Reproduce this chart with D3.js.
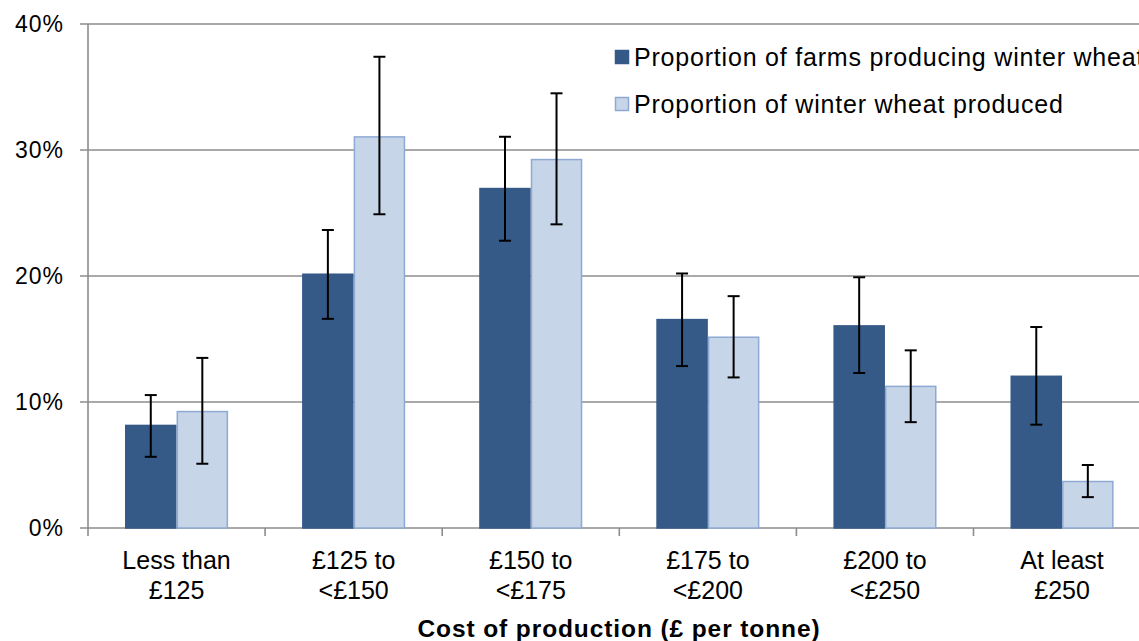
<!DOCTYPE html>
<html>
<head>
<meta charset="utf-8">
<script src="https://cdn.jsdelivr.net/npm/d3@7"></script>
<style>
  html, body { margin: 0; padding: 0; background: #fff; }
  svg { display: block; font-family: Arial, "Liberation Sans", sans-serif; }
</style>
</head>
<body>
<svg id="chart" width="1139" height="641"></svg>
<script>
// Cost-of-production bands (two-line labels)
const categories = [
  ["Less than", "£125"],
  ["£125 to", "<£150"],
  ["£150 to", "<£175"],
  ["£175 to", "<£200"],
  ["£200 to", "<£250"],
  ["At least", "£250"]
];
const seriesNames = [
  "Proportion of farms producing winter wheat",
  "Proportion of winter wheat produced"
];
// Percentages with confidence interval bounds
const farmsValues = [8.2, 20.2, 27.0, 16.6, 16.1, 12.1];
const farmsLow    = [5.65, 16.6, 22.8, 12.85, 12.3, 8.2];
const farmsHigh   = [10.55, 23.65, 31.05, 20.2, 19.9, 15.95];
const wheatValues = [9.3, 31.1, 29.3, 15.2, 11.3, 3.75];
const wheatLow    = [5.1, 24.9, 24.1, 11.95, 8.4, 2.45];
const wheatHigh   = [13.5, 37.4, 34.5, 18.4, 14.1, 5.0];
const yTicks = [0, 10, 20, 30, 40];
const xTitle = "Cost of production (£ per tonne)";

const svg = d3.select("#chart");
const plotLeft = 88, plotTop = 24, plotBottom = 528;
const bandW = 177.1;
const plotRight = plotLeft + bandW * categories.length;

const x = d3.scaleBand().domain(d3.range(categories.length)).range([plotLeft, plotRight]);
const y = d3.scaleLinear().domain([0, 40]).range([plotBottom, plotTop]);
// two bars per group, 37px gap on each side of the pair
const inner = d3.scaleBand().domain([0, 1]).range([37, x.bandwidth() - 37]);

const gridColor = "#8c8c8c";

// Horizontal gridlines
svg.append("g").selectAll("line").data(yTicks).join("line")
  .attr("x1", plotLeft - 8).attr("x2", 1139)
  .attr("y1", d => y(d)).attr("y2", d => y(d))
  .attr("stroke", gridColor).attr("stroke-width", 1.6);

// y tick labels
svg.append("g").selectAll("text").data(yTicks).join("text")
  .attr("x", 64).attr("y", d => y(d)).attr("dy", "0.36em")
  .attr("text-anchor", "end").attr("font-size", 23).attr("letter-spacing", 1)
  .attr("fill", "#000")
  .text(d => d + "%");

// y axis line
svg.append("line").attr("x1", plotLeft).attr("x2", plotLeft).attr("y1", plotTop).attr("y2", plotBottom + 8)
  .attr("stroke", gridColor).attr("stroke-width", 1.6);

// x category ticks
svg.append("g").selectAll("line").data(d3.range(1, categories.length + 1)).join("line")
  .attr("x1", d => plotLeft + d * bandW).attr("x2", d => plotLeft + d * bandW)
  .attr("y1", plotBottom).attr("y2", plotBottom + 8)
  .attr("stroke", gridColor).attr("stroke-width", 1.6);

const series = [
  { vals: farmsValues, lo: farmsLow, hi: farmsHigh, fill: "#365a87", stroke: "#365a87" },
  { vals: wheatValues, lo: wheatLow, hi: wheatHigh, fill: "#c6d5e8", stroke: "#8eaad4" }
];

// Bars
series.forEach((s, si) => {
  svg.append("g").selectAll("rect").data(s.vals).join("rect")
    .attr("x", (d, i) => x(i) + inner(si) + 0.75)
    .attr("y", d => y(d) + 0.75)
    .attr("width", inner.bandwidth() - 1.5)
    .attr("height", d => y(0) - y(d) - 0.75)
    .attr("fill", s.fill).attr("stroke", s.stroke).attr("stroke-width", 1.5);
});

// Error bars
series.forEach((s, si) => {
  const g = svg.append("g").attr("stroke", "#000").attr("stroke-width", 2);
  s.vals.forEach((v, i) => {
    const cx = x(i) + inner(si) + inner.bandwidth() / 2;
    g.append("line").attr("x1", cx).attr("x2", cx).attr("y1", y(s.hi[i])).attr("y2", y(s.lo[i]));
    g.append("line").attr("x1", cx - 6).attr("x2", cx + 6).attr("y1", y(s.hi[i])).attr("y2", y(s.hi[i]));
    g.append("line").attr("x1", cx - 6).attr("x2", cx + 6).attr("y1", y(s.lo[i])).attr("y2", y(s.lo[i]));
  });
});

// Category labels
const catG = svg.append("g").attr("font-size", 25).attr("text-anchor", "middle").attr("fill", "#000");
categories.forEach((c, i) => {
  const cx = x(i) + x.bandwidth() / 2;
  const t = catG.append("text").attr("x", cx).attr("y", 569);
  t.append("tspan").attr("x", cx).text(c[0]);
  t.append("tspan").attr("x", cx).attr("dy", 29.5).text(c[1]);
});

// Axis title
svg.append("text").attr("x", 619).attr("y", 637).attr("text-anchor", "middle")
  .attr("font-size", 24.5).attr("font-weight", "bold").attr("letter-spacing", 0.9)
  .text(xTitle);

// Legend
const legend = svg.append("g");
seriesNames.forEach((name, i) => {
  const ly = 50 + i * 47;
  legend.append("rect").attr("x", 615.5).attr("y", ly + 0.5).attr("width", 13).attr("height", 13)
    .attr("fill", series[i].fill).attr("stroke", series[i].stroke).attr("stroke-width", 1.5);
  legend.append("text").attr("x", 634).attr("y", ly + 15.5).attr("font-size", 25)
    .attr("letter-spacing", 0.8).text(name);
});
</script>
</body>
</html>
